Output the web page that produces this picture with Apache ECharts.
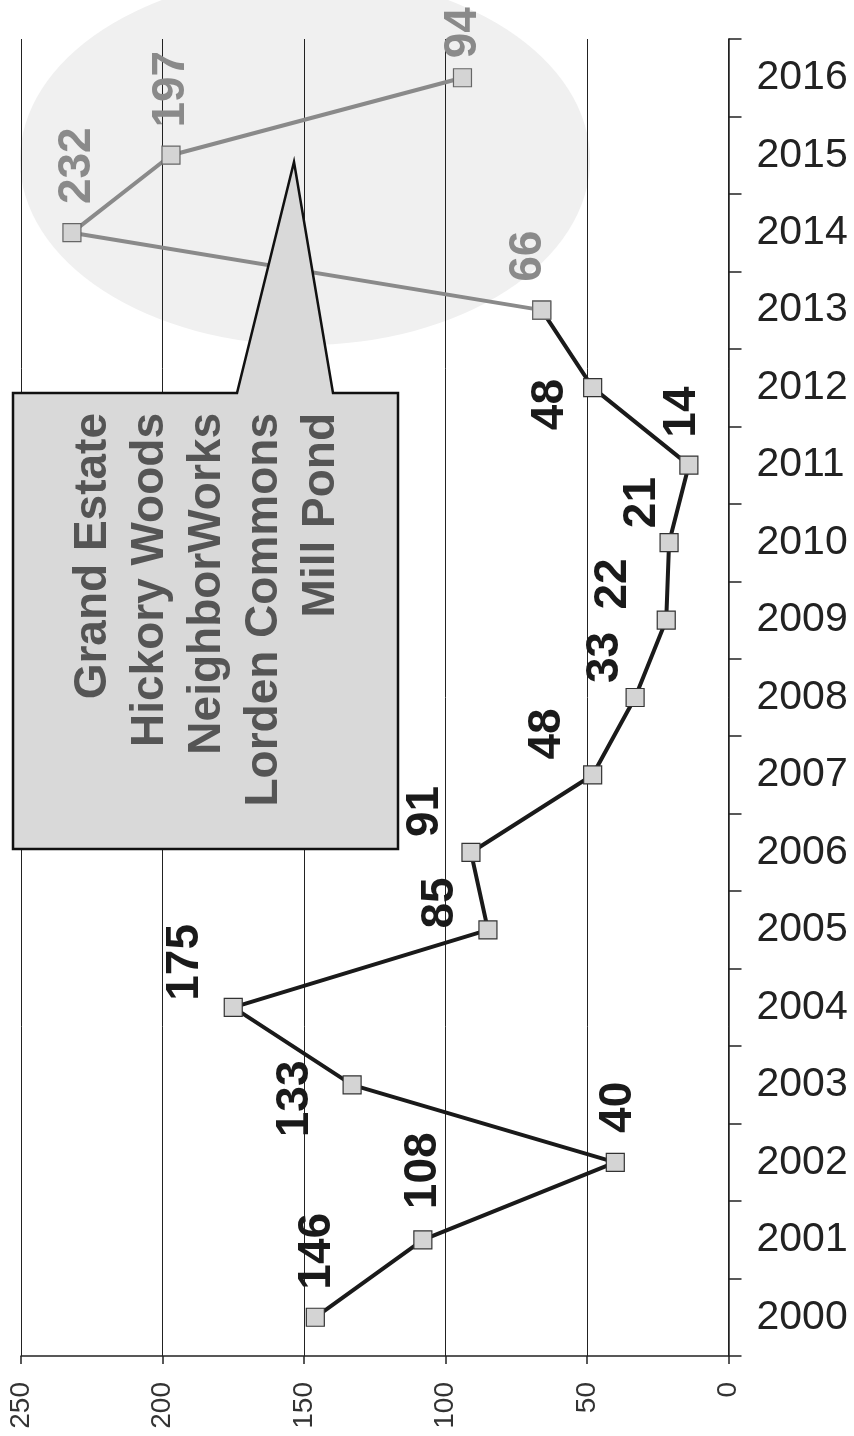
<!DOCTYPE html>
<html><head><meta charset="utf-8">
<script src="https://cdn.jsdelivr.net/npm/echarts@6/dist/echarts.min.js"></script>
<style>html,body{margin:0;padding:0;background:#fff}#c{width:854px;height:1436px}</style>
</head><body><div id="c"></div>
<script>
// ---- data ----
const years = ['2000','2001','2002','2003','2004','2005','2006','2007','2008','2009','2010','2011','2012','2013','2014','2015','2016'];
const values = [146,108,40,133,175,85,91,48,33,22,21,14,48,66,232,197,94];
const graySegmentStart = 13; // from 2013 on, the line is grey
const valueTicks = [0,50,100,150,200,250];
const calloutNames = ['Grand Estate','Hickory Woods','NeighborWorks','Lorden Commons','Mill Pond'];

// ---- label placement (screen px offsets from each point) ----
const labelOffsets = [[2,-66],[0,-69],[3,-55],[-57,14],[-48,-45],[-48,-27],[-46,-41],[-45,-41],[-30,-40],[-53,-36],[-27,-40],[-7,-53],[-42,17],[-13,-54],[5,-67],[0,-66],[1,-45]];

const FONT = '"Liberation Sans", Arial, sans-serif';
const blackData = values.slice(0, graySegmentStart + 1).map((v, i) => [v, years[i]]);
const grayData = values.slice(graySegmentStart).map((v, i) => [v, years[i + graySegmentStart]]);

const chart = echarts.init(document.getElementById('c'), null, {renderer: 'canvas'});
chart.setOption({
  animation: false,
  backgroundColor: '#ffffff',
  grid: {left: 21, right: 125.5, top: 39, bottom: 80},
  xAxis: {
    type: 'value', inverse: true,
    min: valueTicks[0], max: valueTicks[valueTicks.length - 1], interval: valueTicks[1] - valueTicks[0],
    axisLine: {show: true, onZero: false, lineStyle: {color: '#222', width: 1.5}},
    axisTick: {show: true, length: 8, lineStyle: {color: '#222', width: 1.5}},
    axisLabel: {rotate: 90, margin: 26, fontSize: 28, color: '#333', fontFamily: FONT},
    splitLine: {show: true, lineStyle: {color: '#222', width: 1}}
  },
  yAxis: {
    type: 'category', data: years, position: 'right', boundaryGap: true,
    axisLine: {show: true, onZero: false, lineStyle: {color: '#222', width: 1.5}},
    axisTick: {show: true, length: 13, lineStyle: {color: '#222', width: 1.5}},
    axisLabel: {margin: 28, fontSize: 41, color: '#222', fontFamily: FONT},
    splitLine: {show: false}
  },
  graphic: [
    {type: 'circle', z: -10, silent: true, x: 305, y: 160, scaleX: 285, scaleY: 185,
     shape: {cx: 0, cy: 0, r: 1}, style: {fill: '#f0f0f0'}},
    {type: 'polygon', z: 100, silent: true,
     shape: {points: [[13,393],[237,393],[294,162],[333,393],[398,393],[398,849],[13,849]]},
     style: {fill: '#d9d9d9', stroke: '#111', lineWidth: 2.5}},
    ...calloutNames.map((n, k) => ({
      type: 'text', z: 101, silent: true, x: 93 + 57 * k, y: 413, rotation: Math.PI / 2,
      style: {text: n, font: 'bold 46px ' + FONT, fill: '#555', textAlign: 'right', textVerticalAlign: 'middle', align: 'right', verticalAlign: 'middle'}
    }))
  ],
  series: [
    {
      type: 'line', data: blackData, z: 3,
      lineStyle: {color: '#1a1a1a', width: 4},
      symbol: 'rect', symbolSize: 18, showAllSymbol: true,
      itemStyle: {color: '#d4d4d4', borderColor: '#333', borderWidth: 1.2}
    },
    {
      type: 'line', data: grayData, z: 4,
      lineStyle: {color: '#8a8a8a', width: 4},
      symbol: 'rect', symbolSize: 18, showAllSymbol: true,
      itemStyle: {color: '#d4d4d4', borderColor: '#666', borderWidth: 1.2}
    },
    {
      type: 'custom', z: 5, silent: true,
      data: values.map((v, i) => [v, years[i]]),
      encode: {x: 0, y: 1},
      renderItem: function (params, api) {
        const i = params.dataIndex;
        const p = api.coord([api.value(0), api.value(1)]);
        const o = labelOffsets[i];
        return {
          type: 'text', x: p[0] + o[0], y: p[1] + o[1], rotation: Math.PI / 2,
          style: {
            text: String(values[i]), font: 'bold 46px ' + FONT,
            fill: i >= graySegmentStart ? '#8a8a8a' : '#1a1a1a',
            textAlign: 'center', textVerticalAlign: 'middle', align: 'center', verticalAlign: 'middle'
          }
        };
      }
    }
  ]
});
</script></body></html>
